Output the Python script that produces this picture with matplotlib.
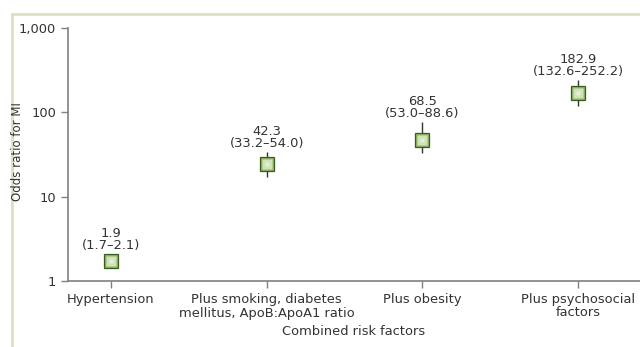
import matplotlib
matplotlib.use("Agg")
import matplotlib.pyplot as plt
from matplotlib.lines import Line2D
import numpy as np

# Data
categories = ["Hypertension",
              "Plus smoking, diabetes\nmellitus, ApoB:ApoA1 ratio",
              "Plus obesity",
              "Plus psychosocial\nfactors"]
marker_vals = [1.75, 24.5, 47.0, 168.0]      # plotted marker positions
err_low = [1.7, 17.0, 33.0, 119.0]
err_high = [2.1, 34.0, 76.0, 240.0]
odds_text = ["1.9", "42.3", "68.5", "182.9"]
ci_text = ["(1.7\u20132.1)", "(33.2\u201354.0)", "(53.0\u201388.6)", "(132.6\u2013252.2)"]
yticks = [1, 10, 100, 1000]
ytick_labels = ["1", "10", "100", "1,000"]

plt.rcParams['font.family'] = ['DejaVu Sans']

fig = plt.figure(figsize=(6.4, 3.47), dpi=100)
ax = fig.add_axes([68/640, 1-281/347, 1-68/640, (281-28)/347])

x = np.arange(len(categories))
text_col = "#333333"
spine_col = "#808080"
fs = 9.4

ax.vlines(x, err_low, err_high, color="#333333", lw=1.0, zorder=2)
ax.plot(x, marker_vals, ls="none", marker="s", ms=10.5, mfc="#8fb865",
        mec="#3a5a22", mew=0.9, zorder=3)
ax.plot(x, marker_vals, ls="none", marker="s", ms=6.5, mfc="#cfe2b8",
        mec="none", zorder=4)
ax.plot(x, marker_vals, ls="none", marker="s", ms=3.5, mfc="#e4efd8",
        mec="none", zorder=5)

for xi, hi, t1, t2 in zip(x, err_high, odds_text, ci_text):
    ax.annotate(t1 + "\n" + t2, xy=(xi, hi), xytext=(0, 1.5),
                textcoords="offset points", ha="center", va="bottom",
                fontsize=fs, color=text_col, linespacing=0.92)

ax.set_yscale("log")
ax.set_ylim(1, 1000)
ax.set_xlim(-0.276, 3.398)
ax.set_yticks(yticks)
ax.set_yticklabels(ytick_labels)
ax.minorticks_off()
ax.set_xticks(x)
ax.set_xticklabels(categories, fontsize=fs, color=text_col, linespacing=1.0)
ax.tick_params(axis="y", labelsize=fs, labelcolor=text_col, color=spine_col,
               length=5, width=1, direction="out")
ax.tick_params(axis="x", color=spine_col, length=5, width=1, direction="out", pad=4)

for s in ["top", "right"]:
    ax.spines[s].set_visible(False)
for s in ["left", "bottom"]:
    ax.spines[s].set_color(spine_col)
    ax.spines[s].set_linewidth(1.2)

ax.set_xlabel("Combined risk factors", fontsize=fs, color=text_col, labelpad=4)
fig.text(18/640, 1-152/347, "Odds ratio for MI", rotation=90, ha="center",
         va="center", fontsize=8.5, color=text_col)

# light green frame (top and left)
frame_col = "#d8e4c0"
fig.add_artist(Line2D([12/640, 1], [1-14/347, 1-14/347], transform=fig.transFigure,
                      color=frame_col, lw=2))
fig.add_artist(Line2D([12/640, 12/640], [0, 1-14/347], transform=fig.transFigure,
                      color=frame_col, lw=2))

fig.savefig("out.png", dpi=100)
